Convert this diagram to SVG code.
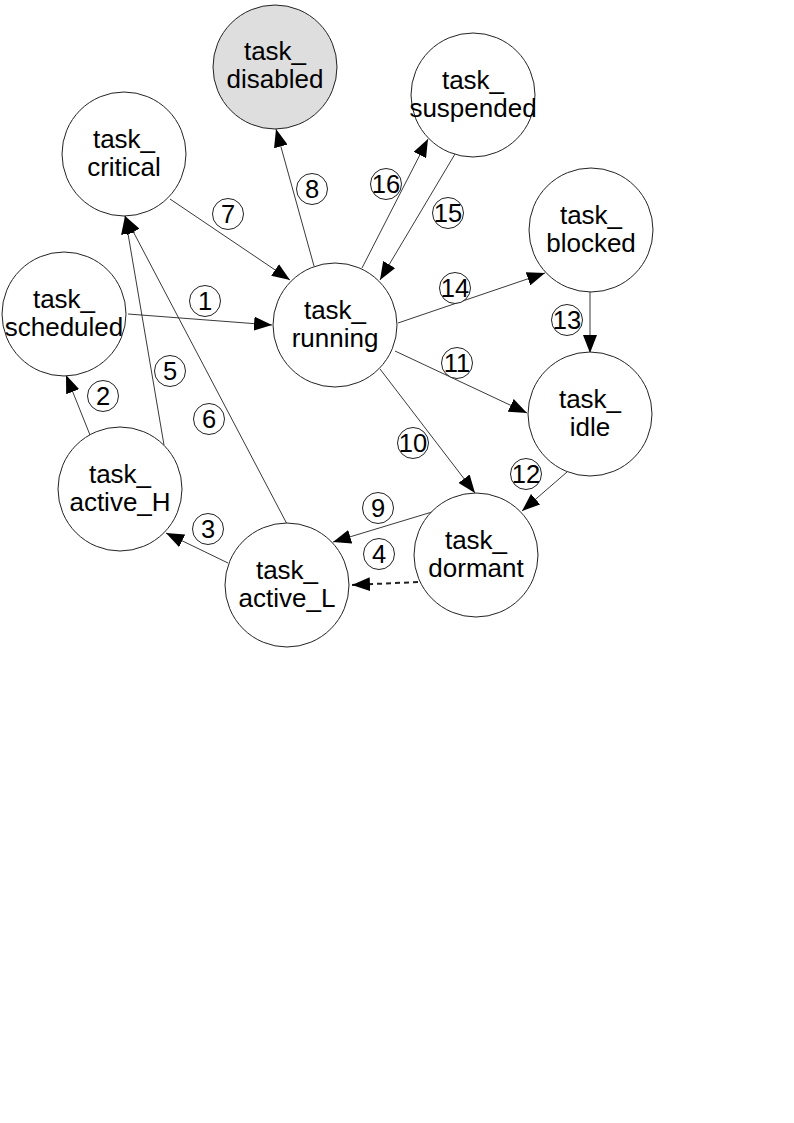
<svg xmlns="http://www.w3.org/2000/svg" width="794" height="1123" viewBox="0 0 794 1123">
<style>
.node circle{fill:#fff;stroke:#222;stroke-width:1}
.node.gray circle{fill:#dedede}
.node text{font-family:"Liberation Sans",Arial,sans-serif;font-size:26px;fill:#000;text-anchor:middle}
.conn line{stroke:#222;stroke-width:0.9;marker-end:url(#arr)}
.conn line.dash{stroke-width:2;stroke-dasharray:5 4}
.lbl circle{fill:#fff;stroke:#222;stroke-width:1}
.lbl text{font-family:"Liberation Sans",Arial,sans-serif;font-size:25.5px;fill:#000;text-anchor:middle}
</style>
<defs>
<marker id="arr" markerUnits="userSpaceOnUse" markerWidth="18" markerHeight="14" refX="18" refY="7" orient="auto">
<path d="M0,0 L18,7 L0,14 z" fill="#000"/>
</marker>
</defs>
<rect width="794" height="1123" fill="#fff"/>
<g id="connectors" class="conn">
<line x1="128" y1="314" x2="272" y2="325"/>
<line x1="90" y1="435" x2="66" y2="375"/>
<line x1="228" y1="563" x2="166" y2="533"/>
<line class="dash" x1="418" y1="582" x2="352" y2="585"/>
<line x1="164" y1="445" x2="125" y2="216"/>
<line x1="287" y1="524" x2="125" y2="216"/>
<line x1="170" y1="199" x2="290" y2="280"/>
<line x1="314" y1="266" x2="276" y2="129"/>
<line x1="432" y1="512" x2="333" y2="542"/>
<line x1="380" y1="369" x2="475" y2="493"/>
<line x1="395" y1="351" x2="527" y2="413"/>
<line x1="567" y1="472" x2="522" y2="511"/>
<line x1="590" y1="290" x2="590" y2="353"/>
<line x1="398" y1="323" x2="545" y2="273"/>
<line x1="455" y1="154" x2="380" y2="280"/>
<line x1="362" y1="268" x2="428" y2="139"/>
</g>
<g id="task_disabled" class="node gray"><circle cx="275" cy="67" r="62"/><text x="275" y="60">task_</text><text x="275" y="88">disabled</text></g>
<g id="task_suspended" class="node"><circle cx="473" cy="95" r="62"/><text x="473" y="89">task_</text><text x="473" y="117">suspended</text></g>
<g id="task_critical" class="node"><circle cx="124" cy="154" r="62"/><text x="124" y="148">task_</text><text x="124" y="176">critical</text></g>
<g id="task_blocked" class="node"><circle cx="591" cy="230" r="62"/><text x="591" y="224">task_</text><text x="591" y="252">blocked</text></g>
<g id="task_scheduled" class="node"><circle cx="64" cy="314" r="62"/><text x="64" y="308">task_</text><text x="64" y="336">scheduled</text></g>
<g id="task_running" class="node"><circle cx="335" cy="325" r="62"/><text x="335" y="319">task_</text><text x="335" y="347">running</text></g>
<g id="task_idle" class="node"><circle cx="590" cy="414" r="62"/><text x="590" y="408">task_</text><text x="590" y="436">idle</text></g>
<g id="task_active_H" class="node"><circle cx="120" cy="489" r="62"/><text x="120" y="483">task_</text><text x="120" y="511">active_H</text></g>
<g id="task_dormant" class="node"><circle cx="476" cy="555" r="62"/><text x="476" y="549">task_</text><text x="476" y="577">dormant</text></g>
<g id="task_active_L" class="node"><circle cx="287" cy="585" r="62"/><text x="287" y="579">task_</text><text x="287" y="607">active_L</text></g>
<g id="labels">
<g class="lbl"><circle cx="205" cy="301" r="15.5"/><text x="205" y="310">1</text></g>
<g class="lbl"><circle cx="103" cy="396" r="15.5"/><text x="103" y="405">2</text></g>
<g class="lbl"><circle cx="208" cy="529" r="15.5"/><text x="208" y="538">3</text></g>
<g class="lbl"><circle cx="379" cy="554" r="15.5"/><text x="379" y="563">4</text></g>
<g class="lbl"><circle cx="170" cy="371" r="15.5"/><text x="170" y="380">5</text></g>
<g class="lbl"><circle cx="209" cy="419" r="15.5"/><text x="209" y="428">6</text></g>
<g class="lbl"><circle cx="228" cy="214" r="15.5"/><text x="228" y="223">7</text></g>
<g class="lbl"><circle cx="312" cy="189" r="15.5"/><text x="312" y="198">8</text></g>
<g class="lbl"><circle cx="378" cy="508" r="15.5"/><text x="378" y="517">9</text></g>
<g class="lbl"><circle cx="413" cy="443" r="15.5"/><text x="413" y="452">10</text></g>
<g class="lbl"><circle cx="457" cy="363" r="15.5"/><text x="457" y="372">11</text></g>
<g class="lbl"><circle cx="526" cy="474" r="15.5"/><text x="526" y="483">12</text></g>
<g class="lbl"><circle cx="567" cy="320" r="15.5"/><text x="567" y="329">13</text></g>
<g class="lbl"><circle cx="455" cy="288" r="15.5"/><text x="455" y="297">14</text></g>
<g class="lbl"><circle cx="448" cy="213" r="15.5"/><text x="448" y="222">15</text></g>
<g class="lbl"><circle cx="386" cy="184" r="15.5"/><text x="386" y="193">16</text></g>
</g>
</svg>
